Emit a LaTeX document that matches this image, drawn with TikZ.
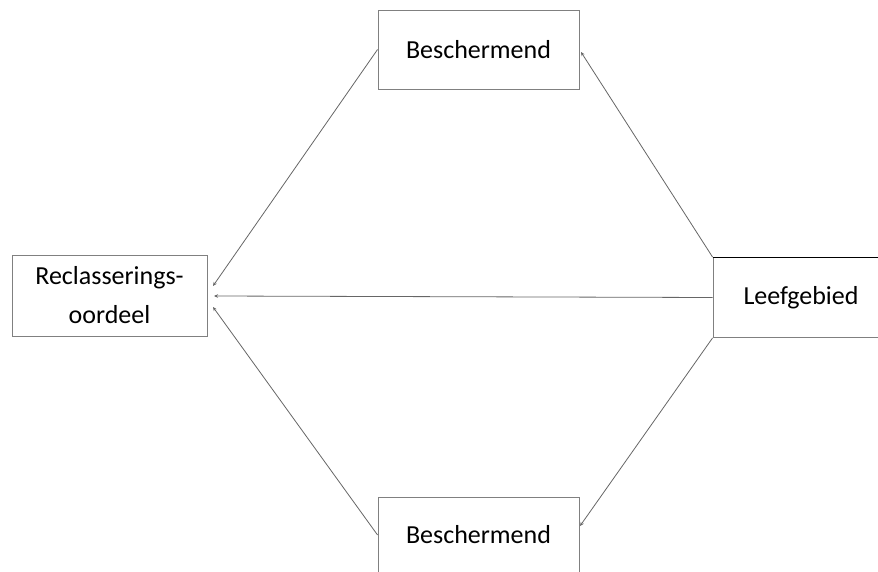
\documentclass[tikz,border=0pt]{standalone}
\usepackage{fontspec}
\setmainfont{Carlito}
\usetikzlibrary{arrows.meta}
\begin{document}
\begin{tikzpicture}[x=1pt,y=-1pt,
  box/.style={draw=black!50,line width=0.9pt,fill=white,inner sep=0pt,
    font=\fontsize{26}{39}\selectfont,align=center},
  conn/.style={draw=black!60,line width=0.8pt,-{Stealth[length=4pt,width=3.5pt]}}]
\useasboundingbox (0,0) rectangle (878,572);
\node[box,minimum width=201pt,minimum height=79pt] (top) at (478.5,49.5) {Beschermend};
\node[box,minimum width=195pt,minimum height=81pt] (left) at (109.5,295.5) {Reclasserings-\\oordeel};
\node[box,minimum width=176pt,minimum height=80pt] (right) at (801,297.5) {Leefgebied};
\draw[black,line width=0.9pt] (right.north west) -- (right.north east);
\node[box,minimum width=201pt,minimum height=76pt] (bottom) at (478.5,535) {Beschermend};
\coordinate (tipT) at (213,286);
\coordinate (tipM) at (214,296);
\coordinate (tipB) at (213,307);
\coordinate (tipTop) at (581,52);
\coordinate (tipBot) at (580,526);
\draw[conn] (top.west) -- (tipT);
\draw[conn] (right.west) -- (tipM);
\draw[conn] (bottom.west) -- (tipB);
\draw[conn] (right.north west) -- (tipTop);
\draw[conn] (right.south west) -- (tipBot);
\end{tikzpicture}
\end{document}
